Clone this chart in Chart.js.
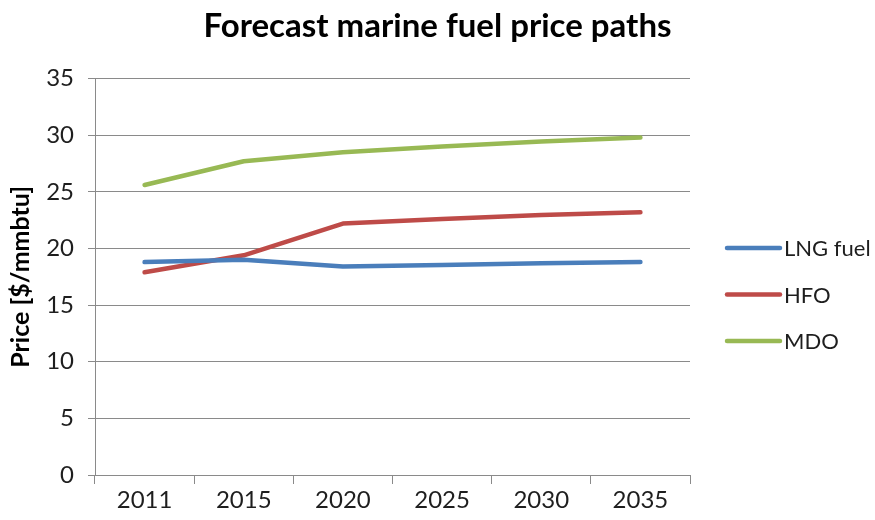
<!DOCTYPE html>
<html>
<head>
<meta charset="utf-8">
<script src="https://cdn.jsdelivr.net/npm/chart.js@4/dist/chart.umd.min.js"></script>
<style>
  html, body { margin: 0; padding: 0; background: #fff; }
  #wrap { width: 875px; height: 520px; }
</style>
</head>
<body>
<div id="wrap"><canvas id="fuelChart" width="875" height="520"></canvas></div>
<script>
const years = ['2011', '2015', '2020', '2025', '2030', '2035'];
const lngFuel = [18.8, 19.0, 18.4, 18.55, 18.7, 18.8];
const hfo = [17.9, 19.4, 22.2, 22.6, 22.95, 23.2];
const mdo = [25.6, 27.7, 28.5, 29.0, 29.45, 29.8];
const yTicks = [0, 5, 10, 15, 20, 25, 30, 35];

const gridGray = '#8a8a8a';
const textDark = '#1e1e1e';
const fontFamily = 'Lato, "Liberation Sans", sans-serif';

// legend drawn to the right of the plot: short line + label per series
const sideLegend = {
  id: 'sideLegend',
  afterLayout(chart) {
    // centre the title over the whole canvas, not just the plot + padding
    const t = chart.titleBlock;
    if (t) { t.left = 0; t.right = chart.width; t.width = chart.width; }
  },
  afterDraw(chart) {
    const ctx = chart.ctx;
    const x0 = 727, x1 = 780, y0 = 248, gap = 46.5;
    ctx.save();
    ctx.font = '22px ' + fontFamily;
    ctx.textBaseline = 'middle';
    chart.data.datasets.forEach((ds, i) => {
      const y = y0 + i * gap;
      ctx.strokeStyle = ds.borderColor;
      ctx.lineWidth = 4.5;
      ctx.lineCap = 'round';
      ctx.beginPath();
      ctx.moveTo(x0, y);
      ctx.lineTo(x1, y);
      ctx.stroke();
      ctx.fillStyle = textDark;
      ctx.fillText(ds.label, x1 + 4, y + 1);
    });
    ctx.restore();
  }
};

function series(label, data, color) {
  return {
    label, data,
    borderColor: color,
    backgroundColor: color,
    borderWidth: 4.5,
    pointRadius: 0,
    tension: 0,
    borderCapStyle: 'round',
    borderJoinStyle: 'round'
  };
}

new Chart(document.getElementById('fuelChart'), {
  type: 'line',
  data: {
    labels: years,
    datasets: [
      series('LNG fuel', lngFuel, '#4a7ebb'),
      series('HFO', hfo, '#be4b48'),
      series('MDO', mdo, '#98b954')
    ]
  },
  options: {
    responsive: false,
    animation: false,
    layout: { padding: { right: 185, left: 0, top: 0, bottom: 0 } },
    plugins: {
      legend: { display: false },
      tooltip: { enabled: false },
      title: {
        display: true,
        text: 'Forecast marine fuel price paths',
        color: '#000',
        font: { family: fontFamily, size: 33, weight: 'bold' },
        padding: { top: 7, bottom: 32 }
      }
    },
    scales: {
      x: {
        offset: true,
        grid: {
          offset: true,
          drawOnChartArea: false,
          drawTicks: true,
          tickLength: 9,
          color: gridGray
        },
        border: { color: gridGray, width: 1 },
        ticks: {
          color: textDark,
          font: { family: fontFamily, size: 24 },
          padding: 2,
          maxRotation: 0
        },
        afterFit(scale) { scale.height = 45; }
      },
      y: {
        min: 0,
        max: 35,
        afterBuildTicks(scale) { scale.ticks = yTicks.map(v => ({ value: v })); },
        grid: { color: gridGray, tickLength: 7 },
        border: { color: gridGray, width: 1 },
        ticks: {
          color: textDark,
          font: { family: fontFamily, size: 24 },
          padding: 14
        },
        title: {
          display: true,
          text: 'Price [$/mmbtu]',
          color: '#000',
          font: { family: fontFamily, size: 25, weight: 'bold' },
          padding: { top: 6, bottom: 0 }
        },
        afterFit(scale) { scale.width = 95; }
      }
    }
  },
  plugins: [sideLegend]
});
</script>
</body>
</html>
